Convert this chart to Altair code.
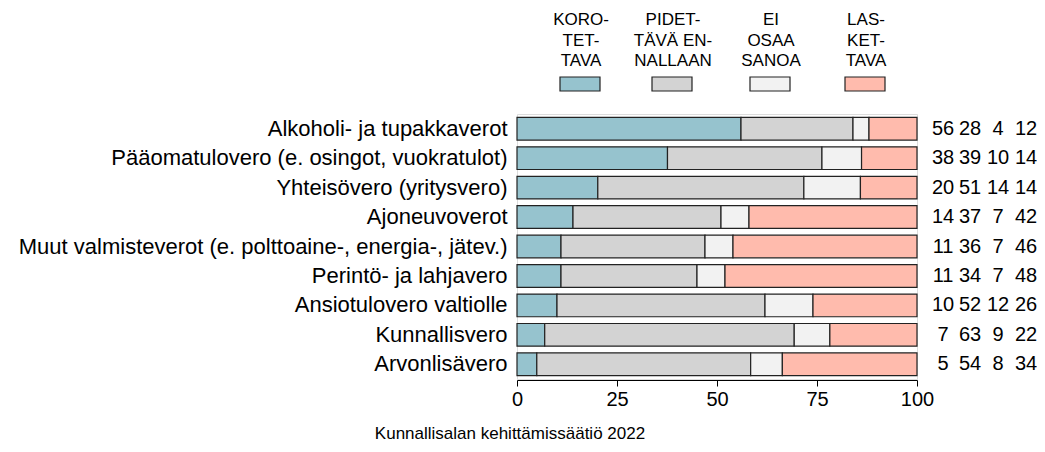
import altair as alt
import pandas as pd

categories = [
    "Alkoholi- ja tupakkaverot",
    "Pääomatulovero (e. osingot, vuokratulot)",
    "Yhteisövero (yritysvero)",
    "Ajoneuvoverot",
    "Muut valmisteverot (e. polttoaine-, energia-, jätev.)",
    "Perintö- ja lahjavero",
    "Ansiotulovero valtiolle",
    "Kunnallisvero",
    "Arvonlisävero",
]
korotettava = [56, 38, 20, 14, 11, 11, 10, 7, 5]
pidettava = [28, 39, 51, 37, 36, 34, 52, 63, 54]
ei_osaa = [4, 10, 14, 7, 7, 7, 12, 9, 8]
laskettava = [12, 14, 14, 42, 46, 48, 26, 22, 34]

series_keys = ["koro", "pidet", "ei", "las"]
series_labels = ["KORO-\nTET-\nTAVA", "PIDET-\nTÄVÄ EN-\nNALLAAN", "EI\nOSAA\nSANOA", "LAS-\nKET-\nTAVA"]
series_colors = ["#96C3CE", "#D3D3D3", "#F2F2F2", "#FFBBAD"]
x_ticks = [0, 25, 50, 75, 100]
caption = "Kunnallisalan kehittämissäätiö 2022"

wide = pd.DataFrame({
    "category": categories,
    "koro": korotettava,
    "pidet": pidettava,
    "ei": ei_osaa,
    "las": laskettava,
})
long = wide.melt(id_vars="category", value_vars=series_keys, var_name="series", value_name="value")
long["order"] = long["series"].map({k: i for i, k in enumerate(series_keys)})

FONT = "Liberation Sans"
ycat = alt.Y("category:N", sort=categories,
             scale=alt.Scale(paddingInner=0.23, paddingOuter=0.115),
             axis=alt.Axis(title=None, domain=False, ticks=False, labelPadding=10,
                           labelFontSize=22, labelColor="black", labelFont=FONT,
                           labelLimit=1000))

bars = alt.Chart(long).mark_bar(stroke="#222222", strokeWidth=1.2).encode(
    x=alt.X("value:Q", stack="normalize",
            scale=alt.Scale(domain=[0, 1], nice=False, zero=True),
            axis=alt.Axis(title=None, values=[t / 100 for t in x_ticks],
                          labelExpr="format(datum.value*100, 'd')",
                          grid=False, domainColor="black", tickColor="black",
                          tickSize=6, labelFontSize=20, labelColor="black",
                          labelFont=FONT, labelPadding=3, offset=1,
                          labelFlush=False)),
    y=ycat,
    color=alt.Color("series:N", scale=alt.Scale(domain=series_keys, range=series_colors), legend=None),
    order=alt.Order("order:Q"),
)

layers = [bars]

num_x = [426, 453, 481, 509]
for key, px in zip(series_keys, num_x):
    layers.append(
        alt.Chart(wide).mark_text(fontSize=20, font=FONT, color="black", align="center", baseline="middle").encode(
            x=alt.value(px), y=alt.Y("category:N", sort=categories), text=alt.Text(f"{key}:Q")
        )
    )

leg_x = [64, 156, 254, 349]
for lab, col, px in zip(series_labels, series_colors, leg_x):
    d = pd.DataFrame({"label": [lab]})
    layers.append(
        alt.Chart(d).mark_text(fontSize=17, font=FONT,
                               color="black", align="center", baseline="middle",
                               lineBreak="\n", lineHeight=20.5).encode(
            x=alt.value(px), y=alt.value(-94), text="label:N"
        )
    )
    layers.append(
        alt.Chart(d).mark_rect(fill=col, stroke="#222222", strokeWidth=1.2).encode(
            x=alt.value(px - 21), x2=alt.value(px + 19), y=alt.value(-37), y2=alt.value(-23)
        )
    )

cap = pd.DataFrame({"t": [caption]})
layers.append(
    alt.Chart(cap).mark_text(fontSize=17, font=FONT, color="black", align="center", baseline="middle").encode(
        x=alt.value(-7), y=alt.value(320), text="t:N"
    )
)

chart = alt.layer(*layers).properties(
    width=400, height=265,
    padding={"left": 509, "top": 106, "right": 120, "bottom": 65},
    autosize=alt.AutoSizeParams(type="none"),
).configure_view(stroke=None).configure(font=FONT)

chart.save("out.html", embed_options={"renderer": "svg", "actions": False})
